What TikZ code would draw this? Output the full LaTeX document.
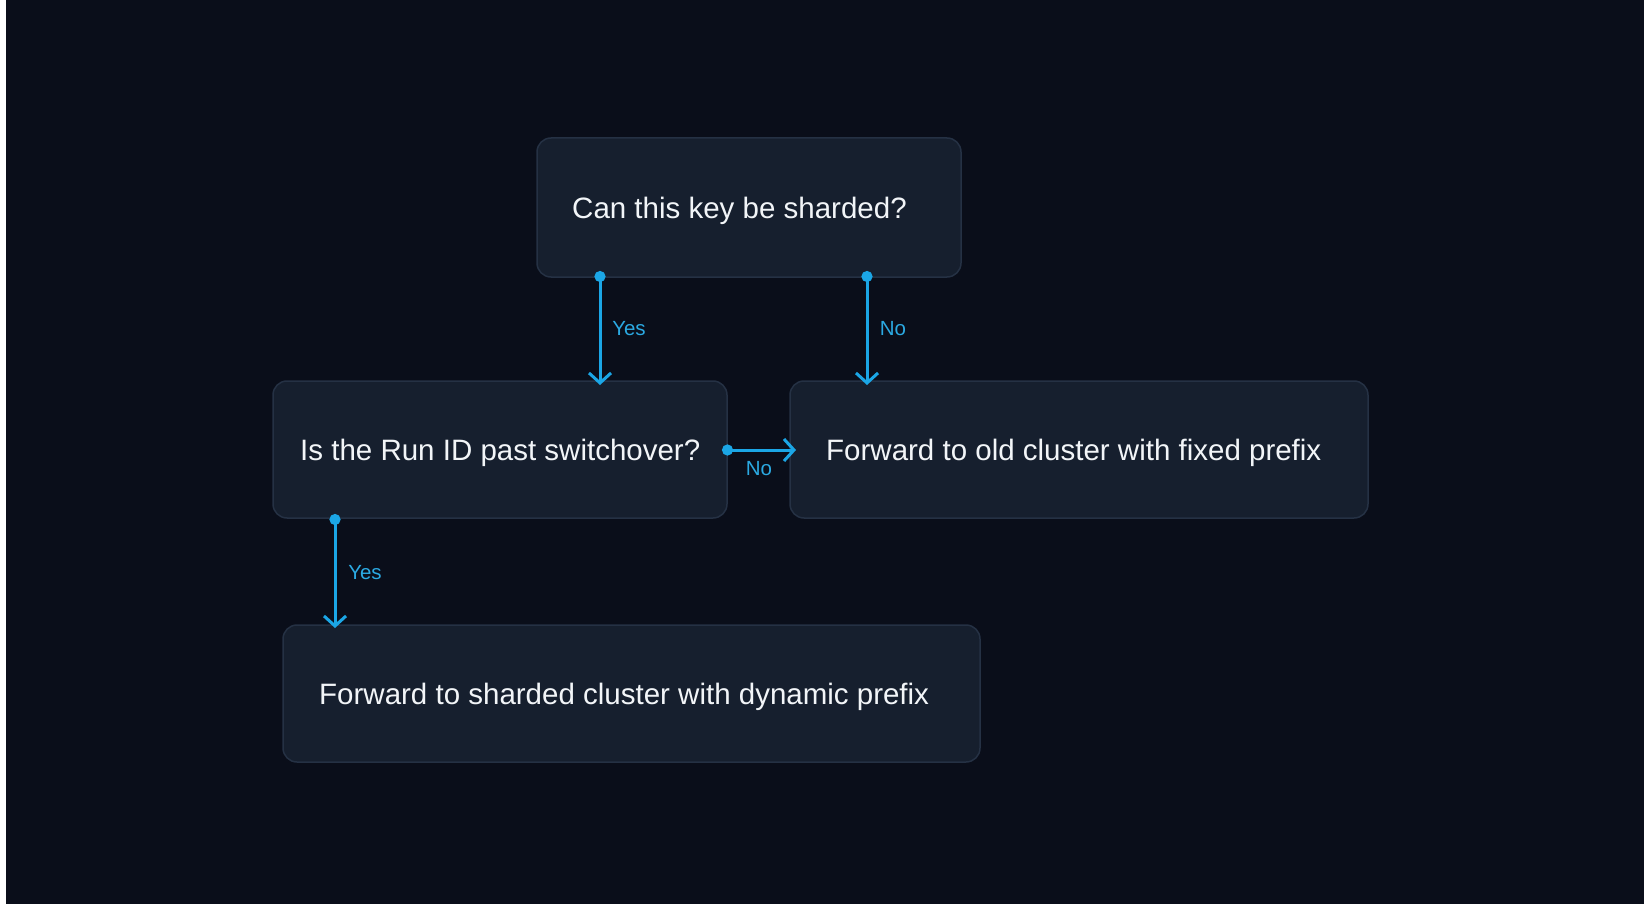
\documentclass[tikz,border=0pt]{standalone}
\usepackage{fontspec}
\setmainfont{Liberation Sans}
\usetikzlibrary{arrows.meta}
\definecolor{bgc}{HTML}{0A0E1A}
\definecolor{boxfill}{HTML}{161F2E}
\definecolor{boxline}{HTML}{253144}
\definecolor{arrowc}{HTML}{1BA6E6}
\definecolor{labc}{HTML}{2BA9E2}
\definecolor{txtc}{HTML}{F2F5F8}
\tikzset{
  box/.style={draw=boxline, line width=1.5pt, fill=boxfill, rounded corners=14pt, inner sep=0pt},
  conn/.style={draw=arrowc, line width=3pt, {Circle[length=11pt]}-{Straight Barb[length=10pt,width=22pt,line width=3pt]}, shorten <=-5pt},
  lab/.style={text=labc, font=\fontsize{20.5}{24}\selectfont},
  txt/.style={text=txtc, anchor=west, inner sep=0pt, font=\fontsize{29.5}{34}\selectfont},
}
\begin{document}
\begin{tikzpicture}[x=1pt,y=-1pt]
\useasboundingbox (0,0) rectangle (1644,904);
\fill[white] (0,0) rectangle (6,904);
\fill[bgc] (6,0) rectangle (1644,904);
\path[box] (537,138) rectangle (961,277);
\path[box] (273,381) rectangle (727,518);
\path[box] (790,381) rectangle (1368,518);
\path[box] (283,625) rectangle (980,762);
\node[txt] (q1) at (572,211) {Can this key be sharded?};
\node[txt] (q2) at (300,453) {Is the Run ID past switchover?};
\node[txt] (old) at (826,453) {Forward to old cluster with fixed prefix};
\node[txt] (new) at (319,697) {Forward to sharded cluster with dynamic prefix};
\coordinate (a1s) at (600,276);
\coordinate (a1e) at (600,385);
\coordinate (a2s) at (867,276);
\coordinate (a2e) at (867,385);
\coordinate (a3s) at (727,450);
\coordinate (a3e) at (796,450);
\coordinate (a4s) at (335,519);
\coordinate (a4e) at (335,628);
\draw[conn] (a1s) -- (a1e);
\draw[conn] (a2s) -- (a2e);
\draw[conn] (a3s) -- (a3e);
\draw[conn] (a4s) -- (a4e);
\node[lab] (l1) at (629,329) {Yes};
\node[lab] (l2) at (893,329) {No};
\node[lab] (l3) at (759,469) {No};
\node[lab] (l4) at (365,573) {Yes};
\end{tikzpicture}
\end{document}
